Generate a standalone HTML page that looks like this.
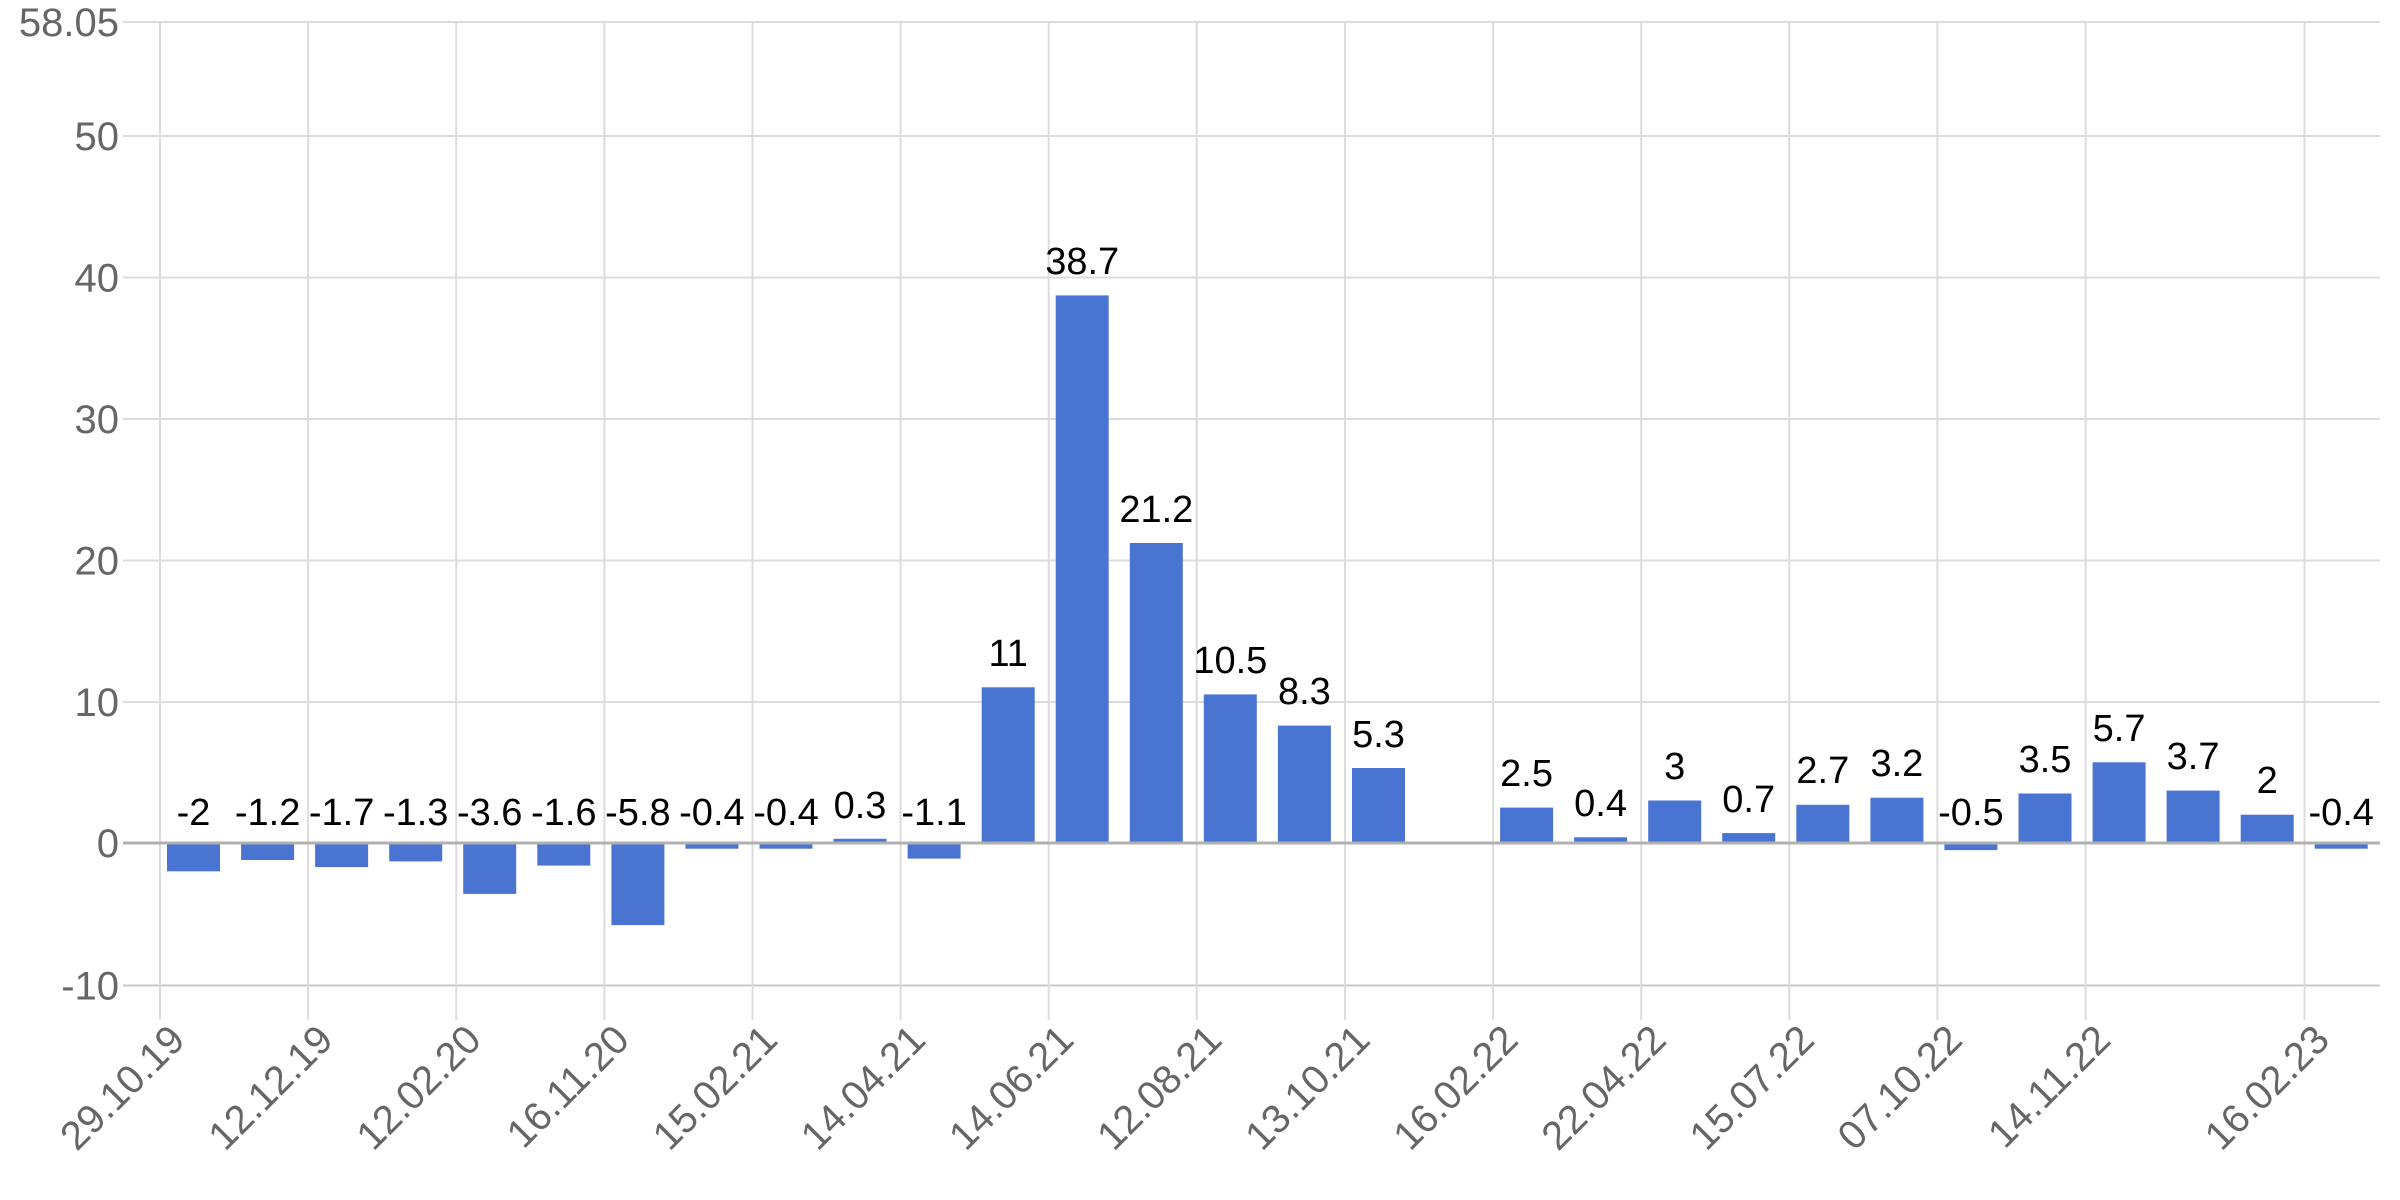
<!DOCTYPE html>
<html><head><meta charset="utf-8"><style>html,body{margin:0;padding:0;background:#fff}svg{display:block}</style></head>
<body>
<svg width="2400" height="1200" xmlns="http://www.w3.org/2000/svg" font-family="Liberation Sans, Arial, sans-serif">
<g stroke="#dcdcdc" stroke-width="2">
<line x1="123" y1="22" x2="2380" y2="22"/>
<line x1="123" y1="136" x2="2380" y2="136"/>
<line x1="123" y1="277.5" x2="2380" y2="277.5"/>
<line x1="123" y1="419" x2="2380" y2="419"/>
<line x1="123" y1="560.5" x2="2380" y2="560.5"/>
<line x1="123" y1="702" x2="2380" y2="702"/>
<line x1="123" y1="985.5" x2="2380" y2="985.5" stroke="#c8c8c8"/>
<line x1="160" y1="22" x2="160" y2="1020"/>
<line x1="308.1" y1="22" x2="308.1" y2="1020"/>
<line x1="456.2" y1="22" x2="456.2" y2="1020"/>
<line x1="604.4" y1="22" x2="604.4" y2="1020"/>
<line x1="752.5" y1="22" x2="752.5" y2="1020"/>
<line x1="900.6" y1="22" x2="900.6" y2="1020"/>
<line x1="1048.7" y1="22" x2="1048.7" y2="1020"/>
<line x1="1196.8" y1="22" x2="1196.8" y2="1020"/>
<line x1="1345" y1="22" x2="1345" y2="1020"/>
<line x1="1493.1" y1="22" x2="1493.1" y2="1020"/>
<line x1="1641.2" y1="22" x2="1641.2" y2="1020"/>
<line x1="1789.3" y1="22" x2="1789.3" y2="1020"/>
<line x1="1937.4" y1="22" x2="1937.4" y2="1020"/>
<line x1="2085.6" y1="22" x2="2085.6" y2="1020"/>
<line x1="2304.5" y1="22" x2="2304.5" y2="1020"/>
</g>
<g fill="#4a74d2">
<rect x="167" y="843" width="53" height="28.3"/>
<rect x="241.1" y="843" width="53" height="17"/>
<rect x="315.1" y="843" width="53" height="24.1"/>
<rect x="389.2" y="843" width="53" height="18.4"/>
<rect x="463.2" y="843" width="53" height="50.9"/>
<rect x="537.3" y="843" width="53" height="22.6"/>
<rect x="611.4" y="843" width="53" height="82.1"/>
<rect x="685.4" y="843" width="53" height="5.7"/>
<rect x="759.5" y="843" width="53" height="5.7"/>
<rect x="833.5" y="838.8" width="53" height="4.2"/>
<rect x="907.6" y="843" width="53" height="15.6"/>
<rect x="981.7" y="687.3" width="53" height="155.7"/>
<rect x="1055.7" y="295.4" width="53" height="547.6"/>
<rect x="1129.8" y="543" width="53" height="300"/>
<rect x="1203.8" y="694.4" width="53" height="148.6"/>
<rect x="1277.9" y="725.6" width="53" height="117.4"/>
<rect x="1352" y="768" width="53" height="75"/>
<rect x="1500.1" y="807.6" width="53" height="35.4"/>
<rect x="1574.1" y="837.3" width="53" height="5.7"/>
<rect x="1648.2" y="800.5" width="53" height="42.5"/>
<rect x="1722.2" y="833.1" width="53" height="9.9"/>
<rect x="1796.3" y="804.8" width="53" height="38.2"/>
<rect x="1870.4" y="797.7" width="53" height="45.3"/>
<rect x="1944.4" y="843" width="53" height="7.1"/>
<rect x="2018.5" y="793.5" width="53" height="49.5"/>
<rect x="2092.6" y="762.3" width="53" height="80.7"/>
<rect x="2166.6" y="790.6" width="53" height="52.4"/>
<rect x="2240.7" y="814.7" width="53" height="28.3"/>
<rect x="2314.7" y="843" width="53" height="5.7"/>
</g>
<line x1="123" y1="843" x2="2380" y2="843" stroke="#b0b0b0" stroke-width="3"/>
<g fill="#666" font-size="40" text-anchor="end">
<text x="119" y="36">58.05</text>
<text x="119" y="150">50</text>
<text x="119" y="291.5">40</text>
<text x="119" y="433">30</text>
<text x="119" y="574.5">20</text>
<text x="119" y="716">10</text>
<text x="119" y="857">0</text>
<text x="119" y="999.5">-10</text>
</g>
<g fill="#000" font-size="38" text-anchor="middle">
<text x="193.5" y="825">-2</text>
<text x="267.6" y="825">-1.2</text>
<text x="341.6" y="825">-1.7</text>
<text x="415.7" y="825">-1.3</text>
<text x="489.7" y="825">-3.6</text>
<text x="563.8" y="825">-1.6</text>
<text x="637.9" y="825">-5.8</text>
<text x="711.9" y="825">-0.4</text>
<text x="786" y="825">-0.4</text>
<text x="860" y="818">0.3</text>
<text x="934.1" y="825">-1.1</text>
<text x="1008.2" y="666">11</text>
<text x="1082.2" y="274">38.7</text>
<text x="1156.3" y="522">21.2</text>
<text x="1230.3" y="673">10.5</text>
<text x="1304.4" y="704">8.3</text>
<text x="1378.5" y="747">5.3</text>
<text x="1526.6" y="786">2.5</text>
<text x="1600.6" y="816">0.4</text>
<text x="1674.7" y="779">3</text>
<text x="1748.7" y="812">0.7</text>
<text x="1822.8" y="783">2.7</text>
<text x="1896.9" y="776">3.2</text>
<text x="1970.9" y="825">-0.5</text>
<text x="2045" y="772">3.5</text>
<text x="2119.1" y="741">5.7</text>
<text x="2193.1" y="769">3.7</text>
<text x="2267.2" y="793">2</text>
<text x="2341.2" y="825">-0.4</text>
</g>
<g fill="#666" font-size="40" text-anchor="end">
<text transform="translate(187,1042) rotate(-45)">29.10.19</text>
<text transform="translate(335.1,1042) rotate(-45)">12.12.19</text>
<text transform="translate(483.2,1042) rotate(-45)">12.02.20</text>
<text transform="translate(631.4,1042) rotate(-45)">16.11.20</text>
<text transform="translate(779.5,1042) rotate(-45)">15.02.21</text>
<text transform="translate(927.6,1042) rotate(-45)">14.04.21</text>
<text transform="translate(1075.7,1042) rotate(-45)">14.06.21</text>
<text transform="translate(1223.8,1042) rotate(-45)">12.08.21</text>
<text transform="translate(1372,1042) rotate(-45)">13.10.21</text>
<text transform="translate(1520.1,1042) rotate(-45)">16.02.22</text>
<text transform="translate(1668.2,1042) rotate(-45)">22.04.22</text>
<text transform="translate(1816.3,1042) rotate(-45)">15.07.22</text>
<text transform="translate(1964.4,1042) rotate(-45)">07.10.22</text>
<text transform="translate(2112.6,1042) rotate(-45)">14.11.22</text>
<text transform="translate(2331.5,1042) rotate(-45)">16.02.23</text>
</g>
</svg>
</body></html>
